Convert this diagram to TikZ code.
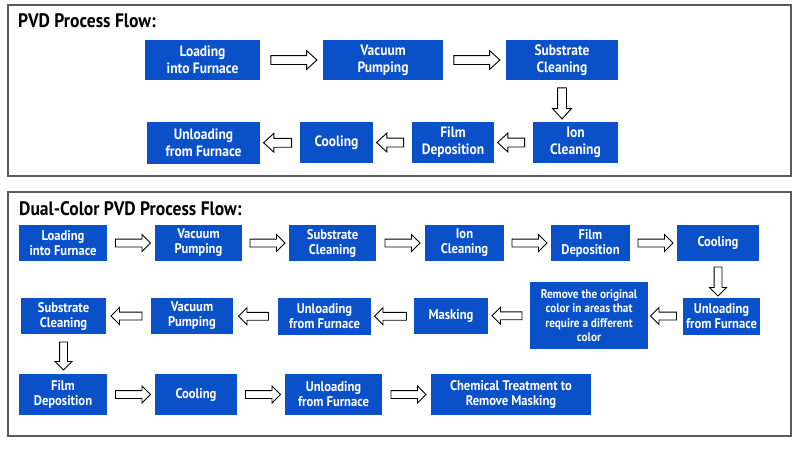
\documentclass[tikz,border=0pt]{standalone}
\usepackage{fontspec}
\setmainfont{PT Sans}
\newfontfamily\boxfont[FakeStretch=0.9]{PT Sans}
\usetikzlibrary{shapes.arrows,calc}
\definecolor{boxblue}{RGB}{10,80,200}
\definecolor{framegray}{RGB}{90,90,90}
\begin{document}
\begin{tikzpicture}[x=1pt,y=-1pt,
 box/.style={fill=boxblue, text=white, font=\boxfont\bfseries\fontsize{15}{17}\selectfont, align=center, inner sep=0pt},
 dbox/.style={box, font=\boxfont\bfseries\fontsize{14}{15}\selectfont},
 frame/.style={draw=framegray, line width=1.3pt},
 title/.style={anchor=west, font=\boxfont\bfseries\fontsize{19.5}{20}\selectfont, inner sep=0pt},
 barrow/.style={single arrow, draw=black, fill=white, line width=0.9pt, inner xsep=0pt, inner ysep=4pt,
   single arrow head extend=5pt, single arrow tip angle=85},
 darrow/.style={barrow, inner ysep=3.5pt, single arrow head extend=4.5pt, single arrow tip angle=90},
 left/.style={shape border rotate=180},
 down/.style={shape border rotate=270, inner xsep=4pt, inner ysep=0pt},
 ddown/.style={shape border rotate=270, inner xsep=3.5pt, inner ysep=0pt}
]
\useasboundingbox (0,0) rectangle (800,448);
\fill[white] (0,0) rectangle (800,448);
% frames
\draw[frame] (8,5) rectangle (791,176);
\draw[frame] (8,192) rectangle (791,436);
\node[title] (t1) at (18,21) {PVD Process Flow:};
\node[title] (t2) at (19,209) {Dual-Color PVD Process Flow:};
% top section
\node[box, minimum width=115, minimum height=40] (lf1) at (202.5,60) {Loading\\into Furnace};
\node[box, minimum width=120, minimum height=40] (vp1) at (383,60) {Vacuum\\Pumping};
\node[box, minimum width=112, minimum height=40] (sc1) at (562,60) {Substrate\\Cleaning};
\node[box, minimum width=85, minimum height=41] (ic1) at (575.5,142.5) {Ion\\Cleaning};
\node[box, minimum width=82, minimum height=41] (fd1) at (453,142.5) {Film\\Deposition};
\node[box, minimum width=73, minimum height=41] (co1) at (336.5,142.5) {Cooling};
\node[box, minimum width=113, minimum height=42] (uf1) at (203.5,143) {Unloading\\from Furnace};
\node[barrow, minimum height=46] at ($(lf1.east)!0.5!(vp1.west)$) {};
\node[barrow, minimum height=46] at ($(vp1.east)!0.5!(sc1.west)$) {};
\node[barrow, down, minimum height=31] at ($(sc1.south)!0.5!(sc1.south|-ic1.north)$) {};
\node[barrow, left, minimum height=27] at ($(ic1.west)!0.5!(fd1.east)$) {};
\node[barrow, left, minimum height=27] at ($(fd1.west)!0.5!(co1.east)$) {};
\node[barrow, left, minimum height=28] at ($(co1.west)!0.5!(uf1.east)$) {};
% dual section row 1
\node[dbox, minimum width=88, minimum height=36] (lf2) at (63,243) {Loading\\into Furnace};
\node[dbox, minimum width=87, minimum height=36] (vp2) at (198.5,243) {Vacuum\\Pumping};
\node[dbox, minimum width=87, minimum height=36] (sc2) at (332.5,243) {Substrate\\Cleaning};
\node[dbox, minimum width=79, minimum height=36] (ic2) at (464.5,243) {Ion\\Cleaning};
\node[dbox, minimum width=79, minimum height=36] (fd2) at (590.5,243) {Film\\Deposition};
\node[dbox, minimum width=82, minimum height=36] (co2) at (718,243) {Cooling};
\node[darrow, minimum height=35] at ($(lf2.east)!0.5!(vp2.west)$) {};
\node[darrow, minimum height=35] at ($(vp2.east)!0.5!(sc2.west)$) {};
\node[darrow, minimum height=35] at ($(sc2.east)!0.5!(ic2.west)$) {};
\node[darrow, minimum height=35] at ($(ic2.east)!0.5!(fd2.west)$) {};
\node[darrow, minimum height=35] at ($(fd2.east)!0.5!(co2.west)$) {};
% row 2
\node[dbox, minimum width=77, minimum height=37] (uf2) at (721.5,316.5) {Unloading\\from Furnace};
\node[dbox, minimum width=118, minimum height=67, font=\boxfont\bfseries\fontsize{12.5}{14.3}\selectfont] (rm) at (589,315.5) {Remove the original\\color in areas that\\require a different\\color};
\node[dbox, minimum width=74, minimum height=36] (mk) at (451,316) {Masking};
\node[dbox, minimum width=93, minimum height=37] (uf3) at (324.5,316.5) {Unloading\\from Furnace};
\node[dbox, minimum width=82, minimum height=36] (vp3) at (192,316) {Vacuum\\Pumping};
\node[dbox, minimum width=85, minimum height=36] (sc3) at (63.5,316) {Substrate\\Cleaning};
\node[darrow, ddown, minimum height=29] at ($(co2.south)!0.5!(co2.south|-uf2.north)$) {};
\node[darrow, left, minimum height=26] at ($(uf2.west)!0.5!(rm.east)$) {};
\node[darrow, left, minimum height=30] at ($(rm.west)!0.5!(mk.east)$) {};
\node[darrow, left, minimum height=32] at ($(mk.west)!0.5!(uf3.east)$) {};
\node[darrow, left, minimum height=30] at ($(uf3.west)!0.5!(vp3.east)$) {};
\node[darrow, left, minimum height=31] at ($(vp3.west)!0.5!(sc3.east)$) {};
% row 3
\node[dbox, minimum width=88, minimum height=41] (fd3) at (63,394.5) {Film\\Deposition};
\node[dbox, minimum width=82, minimum height=41] (co3) at (196,394.5) {Cooling};
\node[dbox, minimum width=97, minimum height=41] (uf4) at (333.5,394.5) {Unloading\\from Furnace};
\node[dbox, minimum width=160, minimum height=41] (ct) at (511,394.5) {Chemical Treatment to\\Remove Masking};
\node[darrow, ddown, minimum height=28] at ($(sc3.south)!0.5!(sc3.south|-fd3.north)$) {};
\node[darrow, minimum height=35] at ($(fd3.east)!0.5!(co3.west)$) {};
\node[darrow, minimum height=35] at ($(co3.east)!0.5!(uf4.west)$) {};
\node[darrow, minimum height=35] at ($(uf4.east)!0.5!(ct.west)$) {};
\end{tikzpicture}
\end{document}
